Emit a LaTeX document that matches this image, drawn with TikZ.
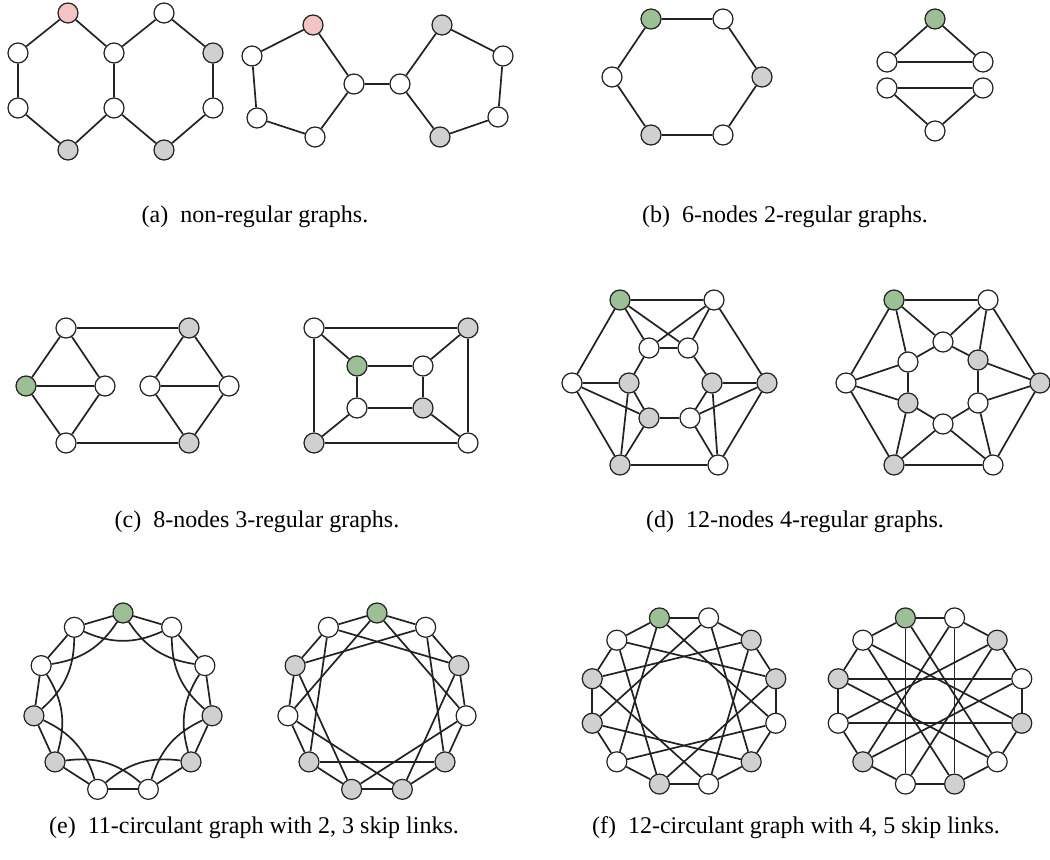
\documentclass[tikz,border=0pt]{standalone}
\usepackage{fontspec}
\setmainfont{Liberation Serif}

\definecolor{nodegray}{HTML}{D0D0D0}
\definecolor{nodegreen}{HTML}{9CBF95}
\definecolor{nodepink}{HTML}{F4C3C3}
\definecolor{inkline}{HTML}{222222}

\tikzset{
  vtx/.style={circle, draw=inkline, line width=0.6pt, fill=white, minimum size=10pt, inner sep=0pt},
  grayv/.style={vtx, fill=nodegray},
  greenv/.style={vtx, fill=nodegreen},
  pinkv/.style={vtx, fill=nodepink},
  lnk/.style={draw=inkline, line width=0.85pt},
  captxt/.style={font=\fontsize{12}{14}\selectfont, inner sep=0pt}
}

\begin{document}
\begin{tikzpicture}[x=0.5pt, y=-0.5pt]
\useasboundingbox (0,0) rectangle (1050,860);

% (a) two hexagons
\node[pinkv] (dhT1) at (68,13) {};
\node[vtx] (dhT2) at (164,13) {};
\node[vtx] (dhL1) at (18,53) {};
\node[vtx] (dhM1) at (114,53) {};
\node[grayv] (dhR1) at (213,53) {};
\node[vtx] (dhL2) at (18,108) {};
\node[vtx] (dhM2) at (114,108) {};
\node[vtx] (dhR2) at (213,108) {};
\node[grayv] (dhB1) at (68,150) {};
\node[grayv] (dhB2) at (164,150) {};
\draw[lnk] (dhT1) -- (dhL1) -- (dhL2) -- (dhB1) -- (dhM2) -- (dhM1) -- (dhT1);
\draw[lnk] (dhM1) -- (dhT2) -- (dhR1) -- (dhR2) -- (dhB2) -- (dhM2);

% (a) two pentagons
\node[pinkv] (ppA) at (313,25) {};
\node[vtx] (ppB) at (252,56) {};
\node[vtx] (ppC) at (257,118) {};
\node[vtx] (ppD) at (315,137) {};
\node[vtx] (ppE) at (354,84) {};
\node[vtx] (ppF) at (400,84) {};
\node[grayv] (ppG) at (442,25) {};
\node[vtx] (ppH) at (503,56) {};
\node[vtx] (ppI) at (498,117) {};
\node[grayv] (ppJ) at (440,137) {};
\draw[lnk] (ppA) -- (ppB) -- (ppC) -- (ppD) -- (ppE) -- (ppA);
\draw[lnk] (ppE) -- (ppF) -- (ppG) -- (ppH) -- (ppI) -- (ppJ) -- (ppF);

% (b) hexagon
\node[greenv] (hx1) at (651,19) {};
\node[vtx] (hx2) at (723,19) {};
\node[grayv] (hx3) at (762,77) {};
\node[vtx] (hx4) at (723,135) {};
\node[grayv] (hx5) at (651,135) {};
\node[vtx] (hx6) at (612,77) {};
\draw[lnk] (hx1) -- (hx2) -- (hx3) -- (hx4) -- (hx5) -- (hx6) -- (hx1);

% (b) two triangles
\node[greenv] (tr1) at (935,19) {};
\node[vtx] (tr2) at (887,62) {};
\node[vtx] (tr3) at (983,62) {};
\node[vtx] (tr4) at (887,88) {};
\node[vtx] (tr5) at (983,88) {};
\node[vtx] (tr6) at (935,131) {};
\draw[lnk] (tr1) -- (tr2) -- (tr3) -- (tr1);
\draw[lnk] (tr4) -- (tr5) -- (tr6) -- (tr4);

% (c) two diamonds
\node[vtx] (prA) at (66,328) {};
\node[greenv] (prB) at (26,386) {};
\node[vtx] (prC) at (105,386) {};
\node[vtx] (prD) at (66,443) {};
\node[grayv] (prE) at (189,328) {};
\node[vtx] (prF) at (150,386) {};
\node[vtx] (prG) at (229,386) {};
\node[grayv] (prH) at (189,443) {};
\draw[lnk] (prA) -- (prB) -- (prD) -- (prC) -- (prA) (prB) -- (prC);
\draw[lnk] (prE) -- (prF) -- (prH) -- (prG) -- (prE) (prF) -- (prG);
\draw[lnk] (prA) -- (prE) (prD) -- (prH);

% (c) cube
\node[vtx] (cb1) at (314,328) {};
\node[grayv] (cb2) at (468,328) {};
\node[vtx] (cb3) at (468,443) {};
\node[grayv] (cb4) at (314,443) {};
\node[greenv] (cb5) at (357,366) {};
\node[vtx] (cb6) at (423,366) {};
\node[grayv] (cb7) at (423,408) {};
\node[vtx] (cb8) at (357,408) {};
\draw[lnk] (cb1) -- (cb2) -- (cb3) -- (cb4) -- (cb1);
\draw[lnk] (cb5) -- (cb6) -- (cb7) -- (cb8) -- (cb5);
\draw[lnk] (cb1) -- (cb5) (cb2) -- (cb6) (cb3) -- (cb7) (cb4) -- (cb8);

% (d) first 4-regular graph
\node[greenv] (da1) at (620,300) {};
\node[vtx] (da2) at (714,300) {};
\node[grayv] (da3) at (767,383) {};
\node[vtx] (da4) at (718,465) {};
\node[grayv] (da5) at (620,465) {};
\node[vtx] (da6) at (572,383) {};
\node[vtx] (di1) at (649,348) {};
\node[vtx] (di2) at (688,348) {};
\node[grayv] (di3) at (629,383) {};
\node[grayv] (di4) at (712,383) {};
\node[grayv] (di5) at (649,418) {};
\node[vtx] (di6) at (690,418) {};
\draw[lnk] (da1) -- (da2) -- (da3) -- (da4) -- (da5) -- (da6) -- (da1);
\draw[lnk] (da1) -- (di1) (da1) -- (di2) (da2) -- (di1) (da2) -- (di2) (di1) -- (di2);
\draw[lnk] (di1) -- (di3) (di2) -- (di4);
\draw[lnk] (da6) -- (di3) (da6) -- (di5) (di3) -- (di5) (di3) -- (da5) (di5) -- (da5);
\draw[lnk] (da3) -- (di4) (da3) -- (di6) (di4) -- (di6) (di4) -- (da4) (di6) -- (da4);
\draw[lnk] (di5) -- (di6);

% (d) second 4-regular graph
\node[greenv] (db1) at (894,300) {};
\node[vtx] (db2) at (988,300) {};
\node[grayv] (db3) at (1040,383) {};
\node[vtx] (db4) at (993,465) {};
\node[grayv] (db5) at (894,465) {};
\node[vtx] (db6) at (846,383) {};
\node[vtx] (dj1) at (943,342) {};
\node[grayv] (dj2) at (978,360) {};
\node[vtx] (dj3) at (978,403) {};
\node[vtx] (dj4) at (943,424) {};
\node[grayv] (dj5) at (908,403) {};
\node[vtx] (dj6) at (908,362) {};
\draw[lnk] (db1) -- (db2) -- (db3) -- (db4) -- (db5) -- (db6) -- (db1);
\draw[lnk] (dj1) -- (dj2) -- (dj3) -- (dj4) -- (dj5) -- (dj6) -- (dj1);
\draw[lnk] (db1) -- (dj1) (db1) -- (dj6) (db2) -- (dj1) (db2) -- (dj2);
\draw[lnk] (db3) -- (dj2) (db3) -- (dj3) (db4) -- (dj3) (db4) -- (dj4);
\draw[lnk] (db5) -- (dj4) (db5) -- (dj5) (db6) -- (dj5) (db6) -- (dj6);

% (e) 11-circulant graphs
\foreach \i/\s in {0/greenv,1/vtx,2/vtx,3/grayv,4/grayv,5/vtx,6/vtx,7/grayv,8/grayv,9/vtx,10/vtx}
  \node[\s] (ea\i) at ({123+90*cos(90-\i*360/11)},{703-90*sin(90-\i*360/11)}) {};
\foreach \i/\s in {0/greenv,1/vtx,2/grayv,3/vtx,4/grayv,5/grayv,6/grayv,7/grayv,8/vtx,9/grayv,10/vtx}
  \node[\s] (eb\i) at ({377+90*cos(90-\i*360/11)},{703-90*sin(90-\i*360/11)}) {};
\foreach \i in {0,...,10} {
  \pgfmathtruncatemacro\nxt{mod(\i+1,11)}
  \pgfmathtruncatemacro\sktwo{mod(\i+2,11)}
  \pgfmathtruncatemacro\skthree{mod(\i+3,11)}
  \draw[lnk] (ea\i) -- (ea\nxt);
  \draw[lnk] (ea\i) to[bend right=24] (ea\sktwo);
  \draw[lnk] (eb\i) -- (eb\nxt);
  \draw[lnk] (eb\i) -- (eb\skthree);
}

% (f) 12-circulant graphs
\foreach \i/\s in {0/greenv,1/vtx,2/grayv,3/grayv,4/vtx,5/grayv,6/vtx,7/grayv,8/vtx,9/grayv,10/grayv,11/vtx}
  \node[\s] (fa\i) at ({684+95*cos(105-\i*30)},{701-86*sin(105-\i*30)}) {};
\foreach \i/\s in {0/greenv,1/vtx,2/grayv,3/vtx,4/grayv,5/vtx,6/grayv,7/vtx,8/grayv,9/vtx,10/grayv,11/vtx}
  \node[\s] (fb\i) at ({930+95*cos(105-\i*30)},{701-86*sin(105-\i*30)}) {};
\foreach \i in {0,...,11} {
  \pgfmathtruncatemacro\nxt{mod(\i+1,12)}
  \pgfmathtruncatemacro\skfour{mod(\i+4,12)}
  \pgfmathtruncatemacro\skfive{mod(\i+5,12)}
  \draw[lnk] (fa\i) -- (fa\nxt);
  \draw[lnk] (fa\i) -- (fa\skfour);
  \draw[lnk] (fb\i) -- (fb\nxt);
  \draw[lnk] (fb\i) -- (fb\skfive);
}

% captions
\node[captxt] (capA) at (255,217) {(a)\enspace non-regular graphs.};
\node[captxt] (capB) at (785,217) {(b)\enspace 6-nodes 2-regular graphs.};
\node[captxt] (capC) at (257,522) {(c)\enspace 8-nodes 3-regular graphs.};
\node[captxt] (capD) at (795,522) {(d)\enspace 12-nodes 4-regular graphs.};
\node[captxt] (capE) at (254,828) {(e)\enspace 11-circulant graph with 2, 3 skip links.};
\node[captxt] (capF) at (796,828) {(f)\enspace 12-circulant graph with 4, 5 skip links.};
\end{tikzpicture}
\end{document}
